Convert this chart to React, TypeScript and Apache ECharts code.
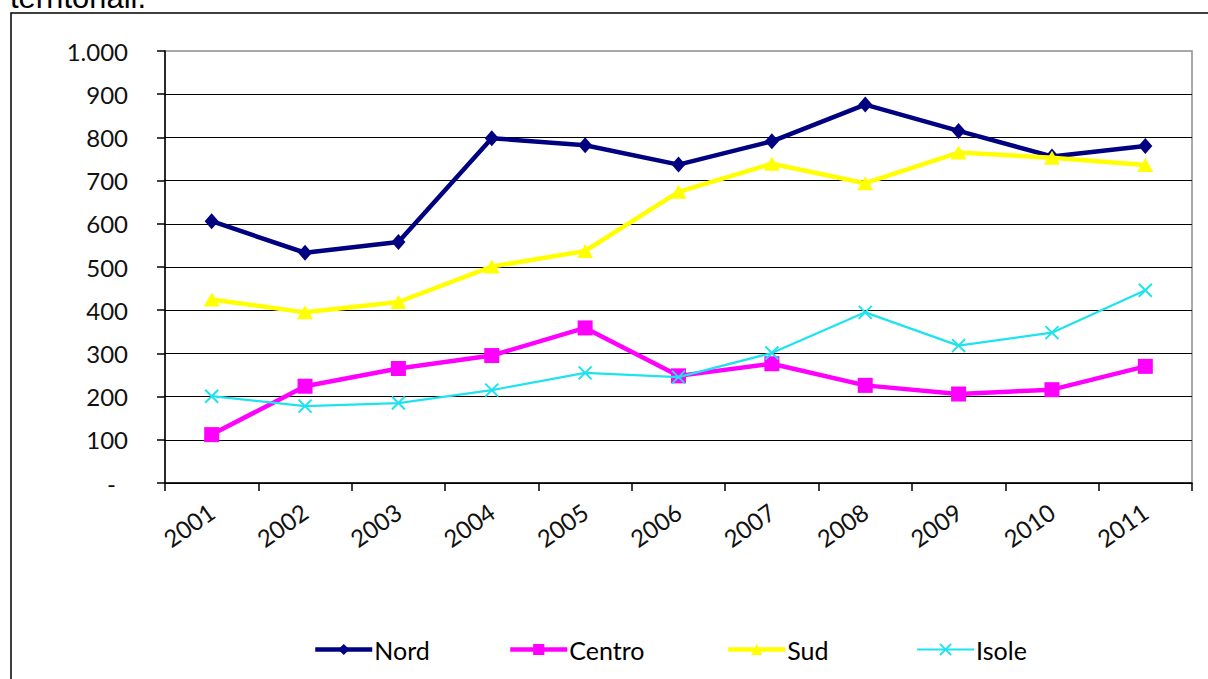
import React, { useEffect, useRef } from "react";
import * as echarts from "echarts";

const years = ["2001", "2002", "2003", "2004", "2005", "2006", "2007", "2008", "2009", "2010", "2011"];
const nord = [606, 533, 558, 798, 782, 737, 791, 876, 815, 756, 780];
const centro = [112, 224, 265, 295, 359, 248, 276, 226, 206, 216, 270];
const sud = [425, 395, 419, 501, 537, 674, 739, 694, 765, 753, 736];
const isole = [201, 178, 185, 215, 255, 245, 301, 395, 318, 348, 446];
const seriesNames = ["Nord", "Centro", "Sud", "Isole"];
const legendLefts = [308, 503, 721, 911];
const headingText = "territoriali.";

const FONT = "Lato, 'Noto Sans', sans-serif";
const LINE_W = [4.5, 4.5, 4.5, 2.2];

function fmtY(v: number): string {
  if (v === 0) return "{dash|-}";
  const s = String(Math.round(v));
  return s.replace(/\B(?=(\d{3})+(?!\d))/g, ".");
}

export default function App() {
  const ref = useRef<HTMLDivElement>(null);
  useEffect(() => {
    if (!ref.current) return;
    const chart = echarts.init(ref.current, undefined, { renderer: "svg" });
    const xSymbol = "path://M0 0 L10 10 M10 0 L0 10";
    const option: any = {
      animation: false,
      backgroundColor: "#ffffff",
      textStyle: { fontFamily: FONT },
      grid: {
        left: 165,
        right: 16,
        top: 51,
        bottom: 196,
        show: true,
        borderColor: "#8c8c8c",
        borderWidth: 1.5,
        backgroundColor: "transparent",
      },
      legend: seriesNames.map((n, i) => ({
        data: [n],
        left: legendLefts[i],
        top: 632,
        itemWidth: 57,
        itemHeight: 14,
        itemGap: 0,
        lineStyle: { width: LINE_W[i] },
        textStyle: { fontFamily: FONT, fontSize: 25, color: "#000", padding: [0, 0, 0, -3] },
        selectedMode: false,
      })),
      xAxis: {
        type: "category",
        data: years,
        boundaryGap: true,
        axisLine: { lineStyle: { color: "#000", width: 1.5 } },
        axisTick: { show: true, length: 8, lineStyle: { color: "#000", width: 1.5 } },
        axisLabel: {
          rotate: 35,
          margin: 26,
          fontFamily: FONT,
          fontSize: 24,
          color: "#111",
          interval: 0,
        },
        splitLine: { show: false },
      },
      yAxis: {
        type: "value",
        min: 0,
        max: 1000,
        interval: 100,
        axisLine: { show: true, lineStyle: { color: "#000", width: 1.5 } },
        axisTick: { show: true, length: 8, lineStyle: { color: "#000", width: 1.5 } },
        axisLabel: {
          margin: 37,
          fontFamily: FONT,
          fontSize: 24,
          color: "#111",
          formatter: fmtY,
          rich: { dash: { fontFamily: FONT, fontSize: 24, color: "#111", padding: [0, 12, 0, 0] } },
        },
        splitLine: { show: true, showMaxLine: false, lineStyle: { color: "#000", width: 1.2 } },
      },
      series: [
        {
          name: "Nord",
          type: "line",
          data: nord,
          symbol: "diamond",
          symbolSize: [14, 16],
          lineStyle: { color: "#000080", width: LINE_W[0] },
          itemStyle: { color: "#000080" },
          z: 2,
        },
        {
          name: "Centro",
          type: "line",
          data: centro,
          symbol: "rect",
          symbolSize: 15,
          lineStyle: { color: "#FF00FF", width: LINE_W[1] },
          itemStyle: { color: "#FF00FF" },
          z: 3,
        },
        {
          name: "Sud",
          type: "line",
          data: sud,
          symbol: "triangle",
          symbolSize: [16, 14],
          lineStyle: { color: "#FFFF00", width: LINE_W[2] },
          itemStyle: { color: "#FFFF00" },
          z: 4,
        },
        {
          name: "Isole",
          type: "line",
          data: isole,
          symbol: xSymbol,
          symbolSize: 13,
          lineStyle: { color: "#1EE3EE", width: LINE_W[3] },
          itemStyle: { color: "#1EE3EE", borderColor: "#1EE3EE", borderWidth: 2 },
          z: 5,
        },
      ],
      graphic: [
        {
          type: "rect",
          z: -10,
          silent: true,
          shape: { x: 11, y: 13, width: 1300, height: 800 },
          style: { fill: "none", stroke: "#000", lineWidth: 1.5 },
        },
        {
          type: "text",
          silent: true,
          x: 10,
          y: 13,
          style: {
            text: headingText,
            fontFamily: "'Liberation Sans', Arial, sans-serif",
            fontSize: 31,
            fill: "#000",
            verticalAlign: "bottom",
          },
        },
      ],
    };
    chart.setOption(option);
    return () => chart.dispose();
  }, []);
  return (
    <div
      ref={ref}
      style={{ position: "fixed", left: 0, top: 0, width: 1208, height: 679, background: "#fff" }}
    />
  );
}
